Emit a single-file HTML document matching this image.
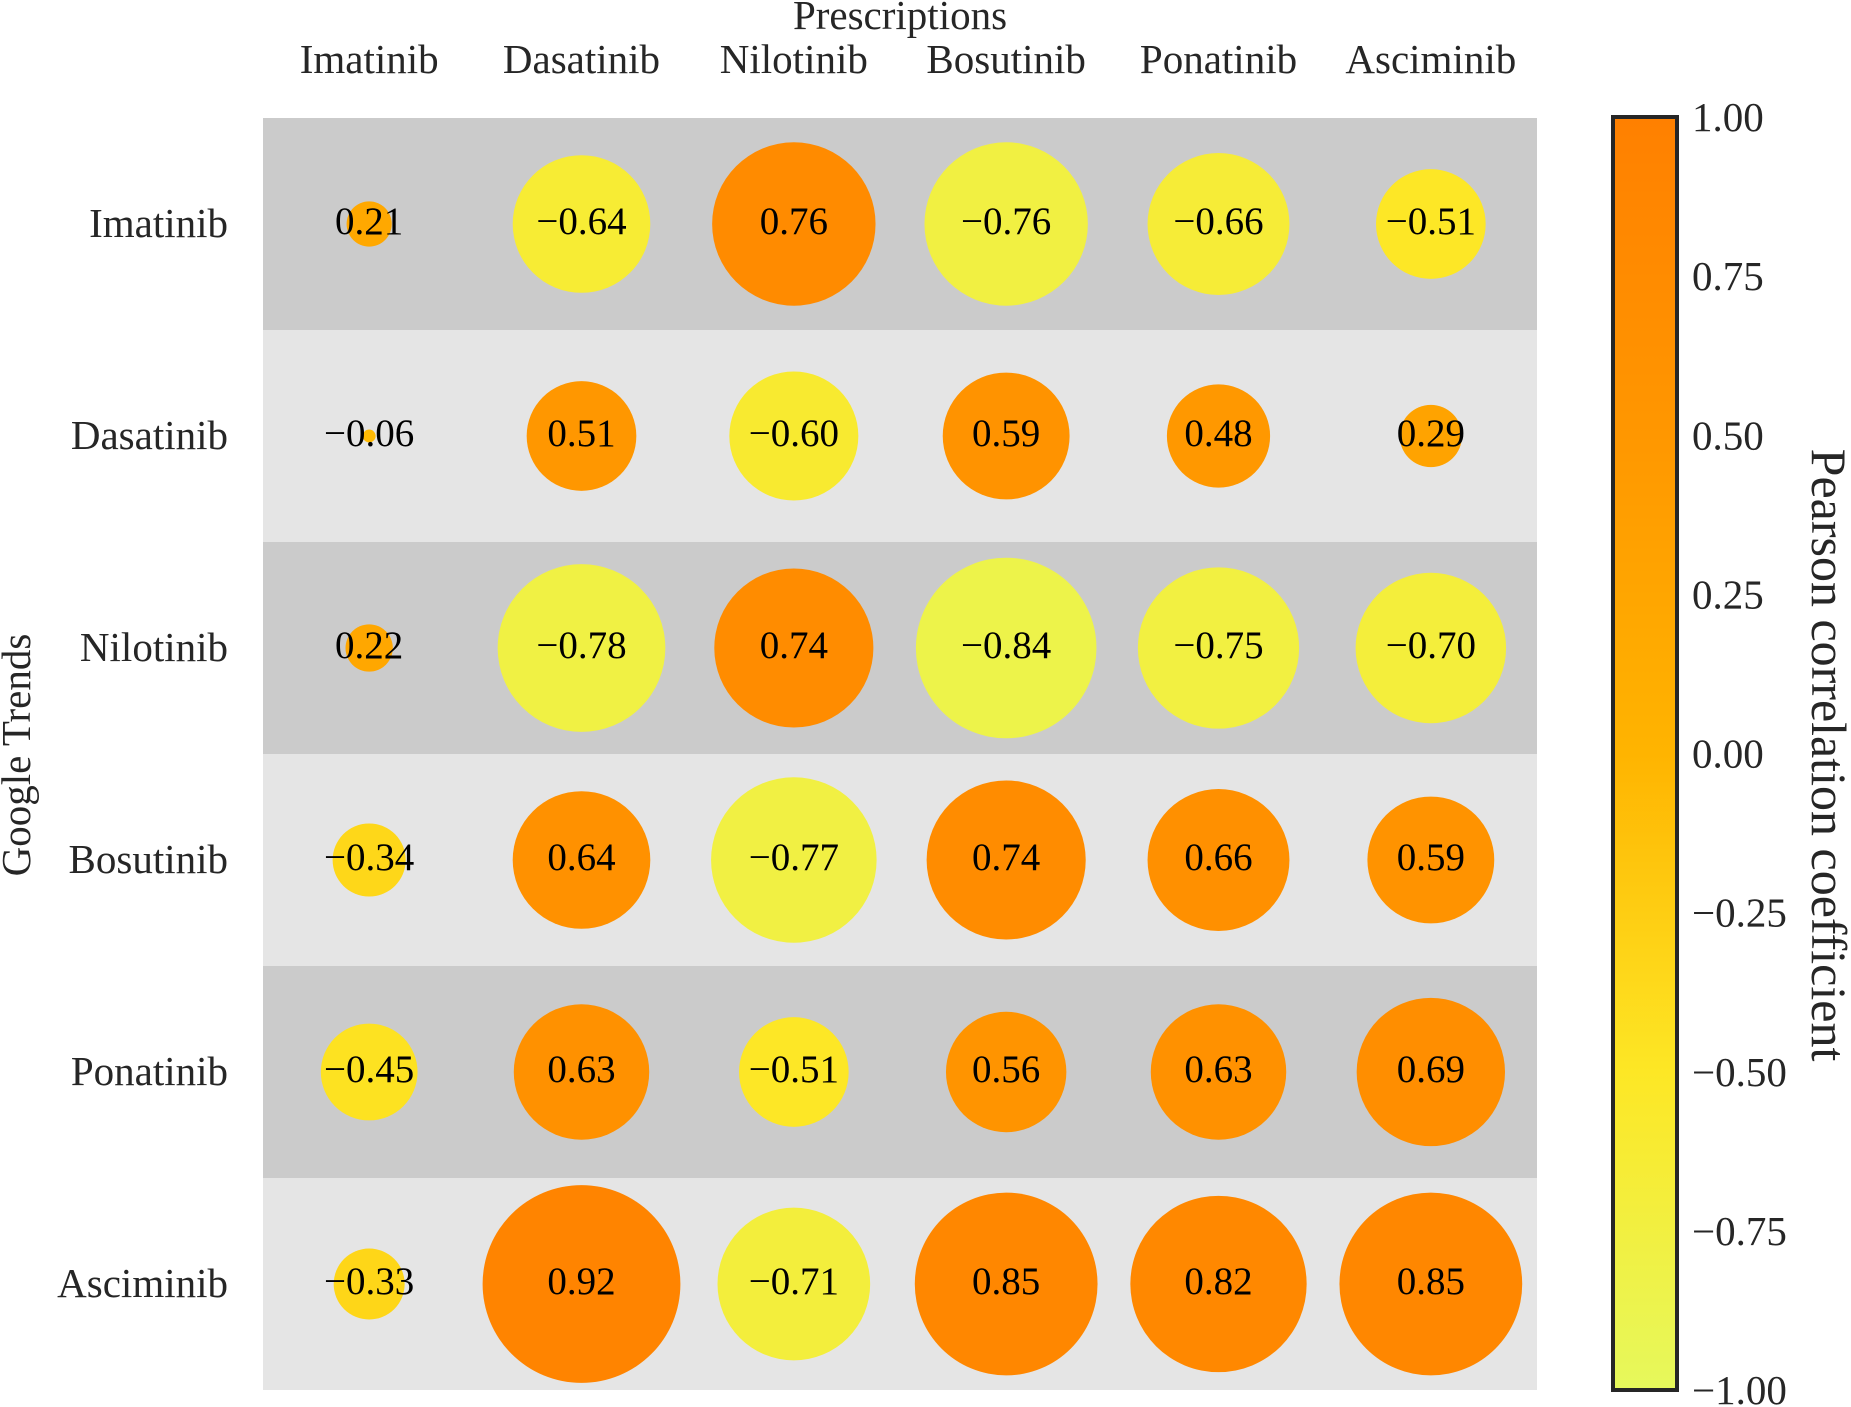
<!DOCTYPE html>
<html><head><meta charset="utf-8"><style>
body{margin:0;background:#fff}
svg{display:block;font-family:"Liberation Serif","DejaVu Serif",serif}
</style></head><body>
<svg id="chart" width="1851" height="1407" xmlns="http://www.w3.org/2000/svg">
<defs><linearGradient id="cbg" x1="0" y1="1" x2="0" y2="0">
<stop offset="0" stop-color="#e6f85c"/><stop offset="0.25" stop-color="#fde725"/>
<stop offset="0.5" stop-color="#ffb400"/><stop offset="0.75" stop-color="#ff9700"/>
<stop offset="1" stop-color="#ff8000"/></linearGradient></defs>
<g id="plot"></g>
</svg>
<script>
const rowLabels=["Imatinib","Dasatinib","Nilotinib","Bosutinib","Ponatinib","Asciminib"];
const colLabels=["Imatinib","Dasatinib","Nilotinib","Bosutinib","Ponatinib","Asciminib"];
const row0=[0.21,-0.64,0.76,-0.76,-0.66,-0.51];
const row1=[-0.06,0.51,-0.60,0.59,0.48,0.29];
const row2=[0.22,-0.78,0.74,-0.84,-0.75,-0.70];
const row3=[-0.34,0.64,-0.77,0.74,0.66,0.59];
const row4=[-0.45,0.63,-0.51,0.56,0.63,0.69];
const row5=[-0.33,0.92,-0.71,0.85,0.82,0.85];
const values=[row0,row1,row2,row3,row4,row5];
const cbTicks=[1.00,0.75,0.50,0.25,0.00,-0.25,-0.50,-0.75,-1.00];

const NS="http://www.w3.org/2000/svg";
const g=document.getElementById('plot');
const L=263,T=118,R=1537,B=1390;
const cw=(R-L)/colLabels.length, ch=(B-T)/rowLabels.length;
const xC=i=>L+cw*(i+0.5), yC=j=>T+ch*(j+0.5);
const rScale=v=>Math.abs(v)*107.5;
const stops=[[-1,[230,248,92]],[-0.5,[253,231,37]],[0,[255,180,0]],[0.5,[255,151,0]],[1,[255,128,0]]];
function color(v){for(let k=0;k<stops.length-1;k++){const a=stops[k],b=stops[k+1];if(v<=b[0]){const t=(v-a[0])/(b[0]-a[0]);return 'rgb('+a[1].map((c,i)=>Math.round(c+(b[1][i]-c)*t)).join(',')+')';}}return 'rgb(255,128,0)';}
function mk(tag,attrs,text){const e=document.createElementNS(NS,tag);for(const k in attrs)e.setAttribute(k,attrs[k]);if(text!==undefined)e.textContent=text;g.appendChild(e);return e;}
const fmt=v=>(v<0?'\u2212':'')+Math.abs(v).toFixed(2);

rowLabels.forEach((lab,j)=>{
  const r=mk('rect',{x:L,y:T+ch*j,width:R-L,height:ch,fill:j%2?'#e5e5e5':'#cbcbcb'});
  
  
  const t=mk('text',{x:228,y:yC(j)+13,'text-anchor':'end','font-size':41,fill:'#262626'},lab);
  
  
});
colLabels.forEach((lab,i)=>{
  const t=mk('text',{x:xC(i),y:73,'text-anchor':'middle','font-size':41,fill:'#262626'},lab);
  
  
});
values.forEach((row,j)=>row.forEach((v,i)=>{
  const c=mk('circle',{cx:xC(i),cy:yC(j),r:rScale(v),fill:color(v)});
  
  
  const t=mk('text',{x:xC(i),y:yC(j)+10,'text-anchor':'middle','font-size':39,fill:'#000'},fmt(v));
  
  
}));
let t1=mk('text',{x:900,y:29,'text-anchor':'middle','font-size':41,fill:'#262626'},'Prescriptions');


let t2=mk('text',{x:0,y:0,'text-anchor':'middle','font-size':41,fill:'#262626',transform:'translate(30,755) rotate(-90)'},'Google Trends');


// colorbar
const cT=117,cB=1390,cL=1613,cR=1677;
const cb=mk('rect',{x:cL,y:cT,width:cR-cL,height:cB-cT,fill:'url(#cbg)',stroke:'#262626','stroke-width':4});


const cy=v=>cB-(v+1)/2*(cB-cT);
cbTicks.forEach(v=>{
  const t=mk('text',{x:1692,y:cy(v)+14,'font-size':41,fill:'#262626'},fmt(v));
  
  
});
let t3=mk('text',{x:0,y:0,'text-anchor':'middle','font-size':50,fill:'#262626',transform:'translate(1812,755) rotate(90)'},'Pearson correlation coefficient');


</script>
</body></html>
